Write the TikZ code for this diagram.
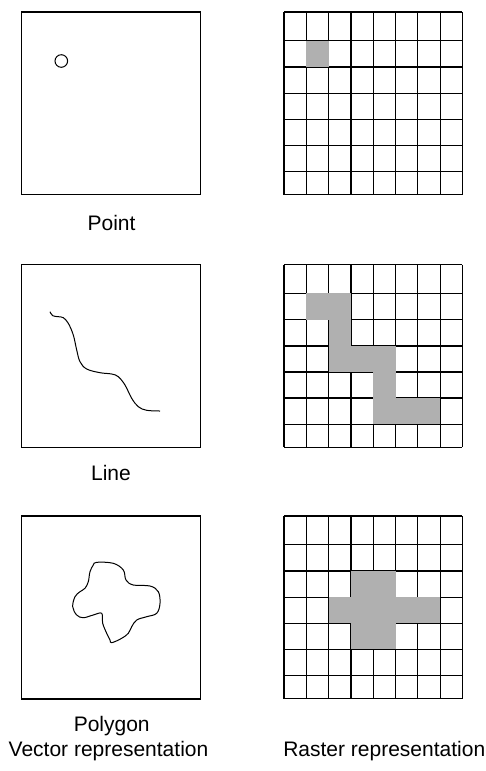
\documentclass[tikz,border=0pt]{standalone}
\usepackage{fontspec}
\setmainfont{Liberation Sans}
\definecolor{cellgray}{HTML}{B0B0B0}

\begin{document}
\begin{tikzpicture}[x=1pt, y=-1pt, line width=1.2pt,
  cell/.style={fill=cellgray, draw=none},
  shape line/.style={line width=1pt},
  lbl/.style={font=\fontsize{21}{25}\selectfont, inner sep=0pt, anchor=base}]
\useasboundingbox (0,0) rectangle (485,771);

% vector side
\draw (21.7,12) rectangle (200.7,194.5);
\draw (21.7,264.7) rectangle (200.7,447.5);
\draw (21.7,516) rectangle (200.7,699);

\draw[shape line] (61.3,61) circle (6.3);
\draw[shape line] plot[smooth, tension=0.6] coordinates {(50,311.7) (52.7,315.7) (58.3,316.7) (63.3,317.7) (68.3,323.3) (73.3,335) (76.7,350) (80,361.7) (86.7,369) (100,372.7) (111.7,374) (118.3,376.7) (125,385) (131.7,398.3) (138.3,406.7) (146.7,410.3) (160,411)};
\draw[shape line] plot[smooth cycle, tension=0.6] coordinates {(96.7,562.3) (113.3,563.3) (123.3,570) (126,580) (133.3,585) (150,586) (158.3,591.7) (160,603.3) (156.7,613.3) (146.7,616.7) (136.7,620) (131.7,626.7) (128.3,633.3) (121.7,638.3) (111.7,642.7) (110,640) (106.7,633.3) (102.7,623.3) (101.7,613.3) (93.3,615) (83.3,617.7) (76.7,615) (72.7,606.7) (75,596.7) (80,591.7) (85,588.3) (88.3,581.7) (90,571.7) (93.3,565)};

% raster side: grids
\foreach \gy in {12,264.7,516} {
\foreach \x in {0,...,8} {
\draw (284+\x*22.3,\gy) -- (284+\x*22.3,\gy+182.5);
}
\foreach \y in {0,28.7,55,81.3,107.3,133.3,159.5,182.5} {
\draw (284,\gy+\y) -- (462.4,\gy+\y);
}
}

% raster side: shaded cells
\fill[cell] (306.3,40.7) rectangle (328.6,67);
\fill[cell] (306.3,293.4) rectangle (350.9,319.7);
\fill[cell] (328.6,319.7) rectangle (350.9,346);
\fill[cell] (328.6,346) rectangle (395.5,372);
\fill[cell] (373.2,372) rectangle (395.5,398);
\fill[cell] (373.2,398) rectangle (440.1,424.2);
\fill[cell] (350.9,571) rectangle (395.5,597.3);
\fill[cell] (328.6,597.3) rectangle (440.1,623.3);
\fill[cell] (350.9,623.3) rectangle (395.5,649.3);

% labels
\node[lbl] (point) at (111.5,230) {Point};
\node[lbl] (line) at (111,480) {Line};
\node[lbl] (polygon) at (111.7,731) {Polygon};
\node[lbl] (vector) at (108.5,756.7) {Vector representation};
\node[lbl, anchor=base west] (raster) at (282.7,756.7) {Raster representation};
\end{tikzpicture}
\end{document}
